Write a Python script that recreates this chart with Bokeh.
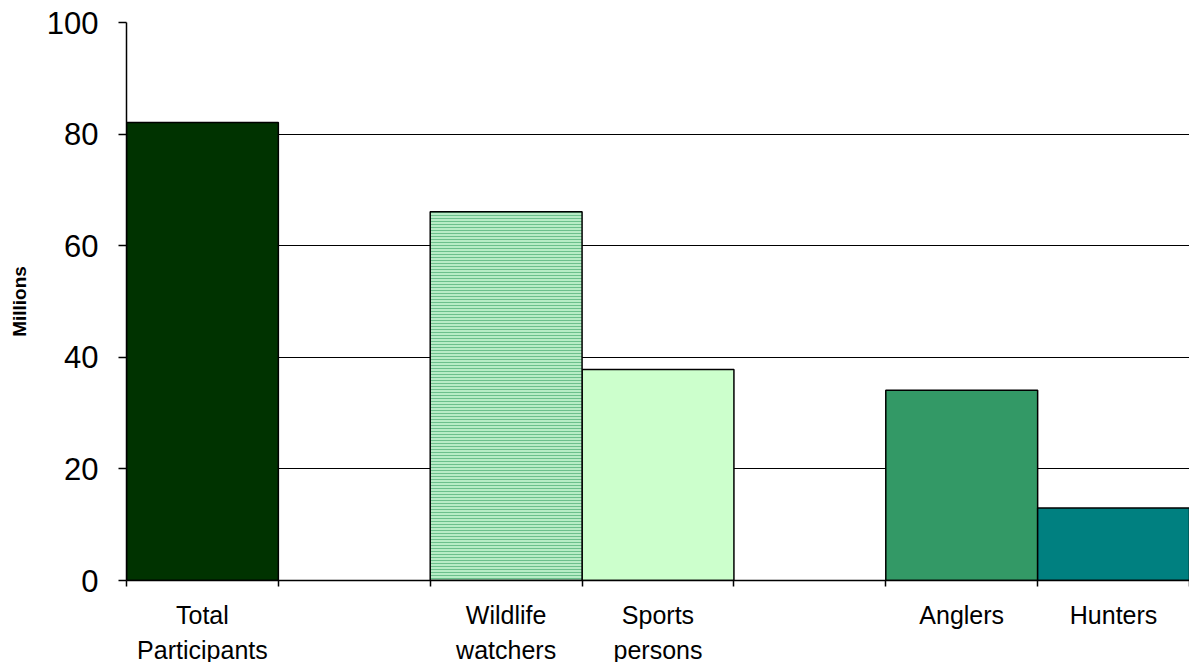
from bokeh.plotting import figure
from bokeh.layouts import column
from bokeh.models import FixedTicker, ColumnDataSource, Range1d
from bokeh.core.properties import value
from bokeh.embed import file_html
from bokeh.resources import INLINE

categories = ["Total\nParticipants", "Wildlife\nwatchers", "Sports\npersons", "Anglers", "Hunters"]
positions = [0.5, 2.5, 3.5, 5.5, 6.5]
values = [82.1, 66.1, 37.8, 34.1, 13.0]
colors = ["#003300", "#ccffcc", "#ccffcc", "#339966", "#008080"]
y_ticks = [0, 20, 40, 60, 80, 100]
slot_edges = [0, 1, 2, 3, 4, 5, 6, 7]

FONT = "Liberation Sans"
xr = Range1d(0, 7)

p = figure(width=1189, height=598, output_backend="svg", toolbar_location=None,
           x_range=xr, y_range=Range1d(0, 100),
           min_border_left=126, min_border_right=0, min_border_top=22, min_border_bottom=18)
p.outline_line_color = None
p.background_fill_color = "white"

plain = ColumnDataSource(dict(x=[positions[i] for i in (0, 2, 3, 4)],
                              top=[values[i] for i in (0, 2, 3, 4)],
                              color=[colors[i] for i in (0, 2, 3, 4)]))
hatched = ColumnDataSource(dict(x=[positions[1]], top=[values[1]]))

p.vbar(x="x", top="top", width=1.0, bottom=0, source=plain, fill_color="color",
       line_color="black", line_width=1.5)
p.vbar(x="x", top="top", width=1.0, bottom=0, source=hatched, fill_color="#b8ecc6",
       hatch_pattern="horizontal_line", hatch_color="#6cc08c", hatch_scale=3, hatch_weight=1,
       line_color="black", line_width=1.5)

# x axis: only slot-boundary tick marks
p.xaxis.ticker = FixedTicker(ticks=[], minor_ticks=slot_edges)
p.xaxis.major_label_standoff = 0
p.xaxis.major_tick_out = 0
p.xaxis.major_tick_in = 0
p.xaxis.minor_tick_line_color = "black"
p.xaxis.minor_tick_out = 6
p.xaxis.minor_tick_in = 0
p.xaxis.minor_tick_line_width = 1.5
p.xaxis.axis_line_color = "black"
p.xaxis.axis_line_width = 1.5

# y axis
p.yaxis.ticker = FixedTicker(ticks=y_ticks)
p.yaxis.axis_label = "Millions"
p.yaxis.axis_label_text_font = FONT
p.yaxis.axis_label_text_font_style = "bold"
p.yaxis.axis_label_text_font_size = "19px"
p.yaxis.axis_label_text_color = "black"
p.yaxis.axis_label_standoff = 14
p.yaxis.major_label_text_font = FONT
p.yaxis.major_label_text_font_size = "31px"
p.yaxis.major_label_text_color = "black"
p.yaxis.major_label_standoff = 20
p.yaxis.major_tick_out = 8
p.yaxis.major_tick_in = 0
p.yaxis.major_tick_line_width = 1.5
p.yaxis.axis_line_width = 1.5
p.yaxis.minor_tick_line_color = None

p.xgrid.grid_line_color = None
p.ygrid.grid_line_color = "black"
p.ygrid.grid_line_width = 1.2
p.ygrid.level = "underlay"

# category labels strip
q = figure(width=1189, height=64, output_backend="svg", toolbar_location=None,
           x_range=xr, y_range=Range1d(0, 1),
           min_border_left=126, min_border_right=0, min_border_top=0, min_border_bottom=0)
q.axis.visible = False
q.grid.visible = False
q.outline_line_color = None
label_src = ColumnDataSource(dict(x=positions, y=[1] * len(positions), text=categories))
q.text(x="x", y="y", text="text", source=label_src, y_offset=2,
       text_align="center", text_baseline="top", text_font=value(FONT),
       text_font_size="25px", text_color="black", text_line_height=1.25)

layout = column(p, q, spacing=0)
open("out.html", "w").write(file_html(layout, INLINE))
